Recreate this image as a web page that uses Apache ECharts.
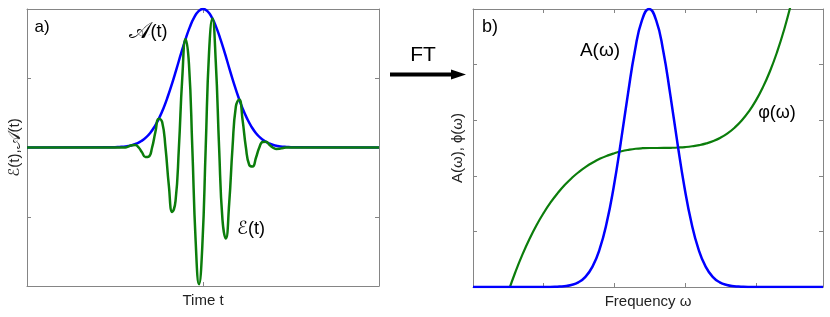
<!DOCTYPE html>
<html>
<head>
<meta charset="utf-8">
<script src="https://cdn.jsdelivr.net/npm/echarts@6/dist/echarts.min.js"></script>
<style>html,body{margin:0;padding:0;background:#fff}#c{width:830px;height:317px}</style>
</head>
<body>
<div id="c"></div>
<script>
// ---- panel a) time domain ----
const timeT = [-10,-5,-4.75,-4.5,-4.25,-4,-3.75,-3.5,-3.25,-3,-2.75,-2.5,-2.25,-2,-1.75,-1.5,-1.25,-1,-0.75,-0.5,-0.25,0,0.25,0.5,0.75,1,1.25,1.5,1.75,2,2.25,2.5,2.75,3,3.25,3.5,3.75,4,4.25,4.5,4.75,5,10];
const envelopeA = [0,0.002,0.004,0.006,0.011,0.018,0.030,0.047,0.071,0.105,0.151,0.210,0.282,0.368,0.465,0.570,0.677,0.779,0.869,0.939,0.985,1,0.985,0.939,0.869,0.779,0.677,0.570,0.465,0.368,0.282,0.210,0.151,0.105,0.071,0.047,0.030,0.018,0.011,0.006,0.004,0.002,0];
const fieldT = [-10,-4.415,-4.225,-4.035,-3.844,-3.654,-3.463,-3.273,-3.083,-2.892,-2.702,-2.512,-2.321,-2.131,-1.940,-1.750,-1.560,-1.369,-1.179,-0.989,-0.798,-0.608,-0.417,-0.227,-0.037,0.154,0.344,0.535,0.725,0.915,1.106,1.296,1.486,1.677,1.867,2.058,2.248,2.438,2.629,2.819,3.010,3.200,3.390,3.581,3.771,3.961,4.152,4.342,4.533,4.723,10];
const fieldE = [0,0,0.008,0.017,0.018,0,-0.035,-0.069,-0.066,0,0.114,0.207,0.184,0,-0.276,-0.465,-0.385,0,0.500,0.783,0.603,0,-0.677,-0.987,-0.707,0,0.687,0.931,0.620,0,-0.521,-0.657,-0.407,0,0.296,0.347,0.200,0,-0.126,-0.137,-0.074,0,0.040,0.041,0.020,0,-0.010,-0.009,-0.004,0,0];
const timeTicks = {min:-10, max:10, interval:10};
const fieldTicks = {min:-1, max:1, interval:0.5};

// ---- panel b) frequency domain ----
const ampW = [0,1.09,1.19,1.29,1.39,1.49,1.59,1.69,1.79,1.89,1.99,2.09,2.19,2.29,2.39,2.49,2.59,2.69,2.79,2.89,2.99,3.09,3.19,3.29,3.39,3.49,3.59,3.69,3.79,3.89,4.95];
const ampA = [0,0,0.005,0.014,0.036,0.084,0.183,0.367,0.677,1.15,1.80,2.60,3.46,4.25,4.80,5.0,4.80,4.25,3.46,2.60,1.80,1.15,0.677,0.367,0.183,0.084,0.036,0.014,0.005,0,0];
const phaseW = [0.4,0.5,0.6,0.7,0.8,0.9,1.0,1.1,1.2,1.3,1.4,1.5,1.6,1.7,1.8,1.9,2.0,2.1,2.2,2.3,2.4,2.5,2.6,2.7,2.8,2.9,3.0,3.1,3.2,3.3,3.4,3.5,3.6,3.7,3.8,3.9,4.0,4.1,4.2,4.3,4.4,4.5,4.6];
const phaseP = [-0.48,-0.083,0.271,0.587,0.867,1.115,1.333,1.525,1.692,1.838,1.964,2.072,2.165,2.243,2.309,2.363,2.406,2.441,2.467,2.486,2.496,2.5,2.5,2.501,2.504,2.509,2.517,2.531,2.552,2.583,2.626,2.685,2.763,2.865,2.993,3.154,3.352,3.593,3.881,4.224,4.628,5.10,5.647];
const freqTicks = {min:0, max:4.95, interval:1};
const specTicks = {min:0, max:5, interval:1};

const zip = (a,b) => a.map((v,i)=>[v,b[i]]);
const FONT = '"Liberation Sans", Arial, "DejaVu Sans", sans-serif';
const frame = '#858585';
const BLUE = '#0000ff', GREEN = '#0b7d0b';

function ax(grid, pos, t, name, nameGap) {
  return Object.assign({
    type:'value', gridIndex:grid, position:pos,
    axisLine:{show:true, onZero:false, lineStyle:{color:frame, width:1}},
    axisTick:{show:true, inside:true, length:4, lineStyle:{color:frame}},
    axisLabel:{show:false}, splitLine:{show:false},
    name: name || '', nameLocation:'middle', nameGap: nameGap || 0,
    nameTextStyle:{color:'#222', fontFamily:FONT, fontSize:15, rich:{s:{fontSize:18, fontFamily:FONT, color:'#222'}}}
  }, t);
}

const chart = echarts.init(document.getElementById('c'), null, {renderer:'canvas'});
chart.setOption({
  animation:false,
  backgroundColor:'#fff',
  grid:[
    {left:27, top:9, width:352, height:277, show:false},
    {left:473, top:9, width:350, height:278, show:false}
  ],
  xAxis:[
    ax(0,'bottom',timeTicks,'Time t',7),
    ax(0,'top',timeTicks),
    ax(1,'bottom',freqTicks,'Frequency \u03c9',7),
    ax(1,'top',freqTicks)
  ],
  yAxis:[
    ax(0,'left',fieldTicks,'\u2130(t),{s|\ud835\udc9c}(t)',3),
    ax(0,'right',fieldTicks),
    ax(1,'left',specTicks,'A(\u03c9), \u03d5(\u03c9)',8),
    ax(1,'right',specTicks)
  ],
  series:[
    {type:'line', xAxisIndex:0, yAxisIndex:0, data:zip(timeT,envelopeA), smooth:true, showSymbol:false, lineStyle:{color:BLUE, width:2.5}, itemStyle:{color:BLUE}},
    {type:'line', xAxisIndex:0, yAxisIndex:0, data:zip(fieldT,fieldE), smooth:true, showSymbol:false, lineStyle:{color:GREEN, width:2.5}, itemStyle:{color:GREEN}},
    {type:'line', xAxisIndex:2, yAxisIndex:2, data:zip(phaseW,phaseP), smooth:true, showSymbol:false, lineStyle:{color:GREEN, width:2.2}, itemStyle:{color:GREEN}},
    {type:'line', xAxisIndex:2, yAxisIndex:2, data:zip(ampW,ampA), smooth:true, showSymbol:false, lineStyle:{color:BLUE, width:2.5}, itemStyle:{color:BLUE}}
  ],
  graphic:[
    {type:'text', x:42, y:27, style:{text:'a)', font:'17px '+FONT, fill:'#000', align:'center', verticalAlign:'middle'}},
    {type:'text', x:148, y:32, style:{text:'{s|\ud835\udc9c}(t)', font:'18px '+FONT, fill:'#000', align:'center', verticalAlign:'middle', rich:{s:{font:'23px '+FONT, fill:'#000'}}}},
    {type:'text', x:251, y:229, style:{text:'\u2130(t)', font:'18px '+FONT, fill:'#000', align:'center', verticalAlign:'middle'}},
    {type:'text', x:490, y:27, style:{text:'b)', font:'18px '+FONT, fill:'#000', align:'center', verticalAlign:'middle'}},
    {type:'text', x:600, y:51, style:{text:'A(\u03c9)', font:'19px '+FONT, fill:'#000', align:'center', verticalAlign:'middle'}},
    {type:'text', x:777, y:113, style:{text:'\u03c6(\u03c9)', font:'18px '+FONT, fill:'#000', align:'center', verticalAlign:'middle'}},
    {type:'text', x:423, y:55, style:{text:'FT', font:'21px '+FONT, fill:'#000', align:'center', verticalAlign:'middle'}},
    {type:'rect', shape:{x:390, y:72.5, width:63, height:4}, style:{fill:'#000'}},
    {type:'polygon', shape:{points:[[451,69.5],[466,74.5],[451,79.5]]}, style:{fill:'#000'}}
  ]
});
</script>
</body>
</html>
